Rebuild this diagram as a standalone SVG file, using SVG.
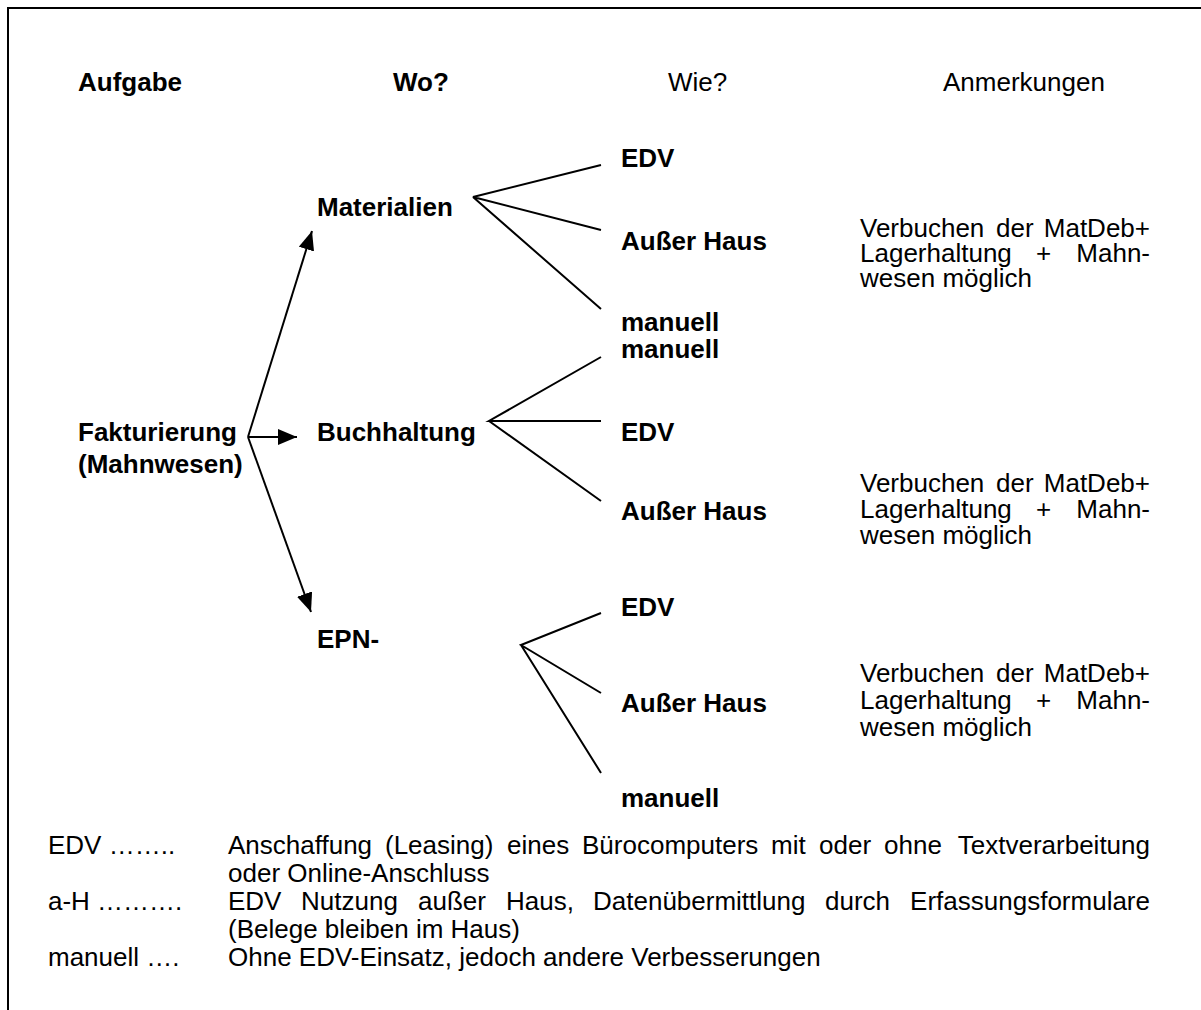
<svg xmlns="http://www.w3.org/2000/svg" width="1201" height="1010" viewBox="0 0 1201 1010">
<defs>
<style>
text{font-family:"Liberation Sans",Arial,sans-serif;font-size:26px;fill:#000}
.b{font-weight:bold}
.e{text-anchor:end}
.ln{stroke:#000;stroke-width:2;fill:none}
</style>
<marker id="ah" markerUnits="userSpaceOnUse" markerWidth="22" markerHeight="18" refX="19" refY="8" orient="auto">
<path d="M0,0 L19,8 L0,16 Z" fill="#000"/>
</marker>
</defs>
<rect width="1201" height="1010" fill="#fff"/>
<g id="frame">
<path class="ln" d="M8,1010 V8 H1201" stroke-width="3"/>
</g>
<g id="header">
<text class="b" x="78" y="91">Aufgabe</text>
<text class="b" x="393" y="91">Wo?</text>
<text x="668" y="91">Wie?</text>
<text x="943" y="91">Anmerkungen</text>
</g>
<g id="connectors">
<path class="ln" d="M248,437 L312,231" marker-end="url(#ah)"/>
<path class="ln" d="M248,437 L297,437" marker-end="url(#ah)"/>
<path class="ln" d="M248,437 L311,612" marker-end="url(#ah)"/>
<path class="ln" d="M601,165 L473,197 L601,230 M473,197 L601,309"/>
<path class="ln" d="M601,357 L489,421 L601,421 M489,421 L601,501"/>
<path class="ln" d="M601,613 L521,645 L601,693 M521,645 L601,773"/>
</g>
<g id="node-fakturierung">
<text class="b" x="78" y="441">Fakturierung</text>
<text class="b" x="78" y="473">(Mahnwesen)</text>
</g>
<g id="node-materialien"><text class="b" x="317" y="216">Materialien</text></g>
<g id="node-buchhaltung"><text class="b" x="317" y="441">Buchhaltung</text></g>
<g id="node-epn"><text class="b" x="317" y="648">EPN-</text></g>
<g id="node-m-edv"><text class="b" x="621" y="167">EDV</text></g>
<g id="node-m-ah"><text class="b" x="621" y="250">Außer Haus</text></g>
<g id="node-m-man"><text class="b" x="621" y="331">manuell</text></g>
<g id="node-b-man"><text class="b" x="621" y="358">manuell</text></g>
<g id="node-b-edv"><text class="b" x="621" y="441">EDV</text></g>
<g id="node-b-ah"><text class="b" x="621" y="520">Außer Haus</text></g>
<g id="node-e-edv"><text class="b" x="621" y="616">EDV</text></g>
<g id="node-e-ah"><text class="b" x="621" y="712">Außer Haus</text></g>
<g id="node-e-man"><text class="b" x="621" y="807">manuell</text></g>
<g id="note1">
<text x="860" y="237">Verbuchen</text><text x="996" y="237">der</text><text class="e" x="1150" y="237">MatDeb+</text>
<text x="860" y="262">Lagerhaltung</text><text x="1036" y="262">+</text><text class="e" x="1150" y="262">Mahn-</text>
<text x="860" y="287">wesen möglich</text>
</g>
<g id="note2">
<text x="860" y="492">Verbuchen</text><text x="996" y="492">der</text><text class="e" x="1150" y="492">MatDeb+</text>
<text x="860" y="518">Lagerhaltung</text><text x="1036" y="518">+</text><text class="e" x="1150" y="518">Mahn-</text>
<text x="860" y="544">wesen möglich</text>
</g>
<g id="note3">
<text x="860" y="682">Verbuchen</text><text x="996" y="682">der</text><text class="e" x="1150" y="682">MatDeb+</text>
<text x="860" y="709">Lagerhaltung</text><text x="1036" y="709">+</text><text class="e" x="1150" y="709">Mahn-</text>
<text x="860" y="736">wesen möglich</text>
</g>
<g id="legend">
<text x="48" y="854">EDV ……..</text>
<text x="228" y="854">Anschaffung</text><text x="385" y="854">(Leasing)</text><text x="507" y="854">eines</text><text x="582" y="854">Bürocomputers</text><text x="771" y="854">mit</text><text x="819" y="854">oder</text><text x="884" y="854">ohne</text><text class="e" x="1150" y="854">Textverarbeitung</text>
<text x="228" y="882">oder Online-Anschluss</text>
<text x="48" y="910">a-H ……….</text>
<text x="228" y="910">EDV</text><text x="301" y="910">Nutzung</text><text x="418" y="910">außer</text><text x="506" y="910">Haus,</text><text x="593" y="910">Datenübermittlung</text><text x="825" y="910">durch</text><text class="e" x="1150" y="910">Erfassungsformulare</text>
<text x="228" y="938">(Belege bleiben im Haus)</text>
<text x="48" y="966">manuell ….</text>
<text x="228" y="966">Ohne EDV-Einsatz, jedoch andere Verbesserungen</text>
</g>
</svg>
